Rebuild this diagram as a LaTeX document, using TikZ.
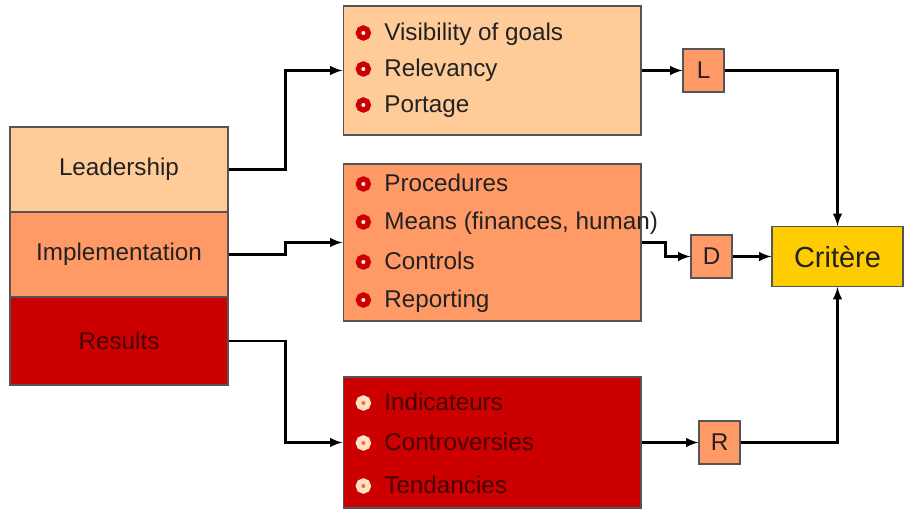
\documentclass[tikz,border=0pt]{standalone}
\usepackage{fontspec}
\setmainfont{Liberation Sans}
\usetikzlibrary{arrows}
\definecolor{peach}{HTML}{FFCC99}
\definecolor{salmon}{HTML}{FF9966}
\definecolor{darkred}{HTML}{CC0000}
\definecolor{gold}{HTML}{FFCC00}
\definecolor{edge}{HTML}{555555}
\definecolor{ink}{HTML}{222222}
\begin{document}
\begin{tikzpicture}[x=0.02cm,y=-0.02cm,
		font=\fontsize{13.8}{16}\selectfont, text=ink,
		box/.style={draw=edge,line width=0.6pt,minimum width=#1},
		stack/.style={box=4.36cm,minimum height=1.7cm},
		list/.style={box=5.96cm},
		letter/.style={box=0.82cm,fill=salmon,minimum height=0.86cm,inner sep=0pt},
		item/.style={anchor=west,inner sep=0pt,text height=11.5pt,text depth=2.5pt,
			label={[circle,draw=darkred,fill=white!85!pink,line width=3pt,minimum size=0.2cm,inner sep=0pt,label distance=0.26cm]left:{}}},
		ritem/.style={anchor=west,inner sep=0pt,text height=11.5pt,text depth=2.5pt,text={rgb,255:red,70;green,0;blue,0},
			label={[circle,draw=peach!60!white,fill=salmon!70!darkred,line width=3pt,minimum size=0.2cm,inner sep=0pt,label distance=0.26cm]left:{}}},
		arr/.style={-latex,line width=1.4pt}]
		\useasboundingbox (0,0) rectangle (906,510);
		% left stack
		\node[stack,fill=peach] (lead) at (119,169.5) {Leadership};
		\node[stack,fill=salmon] (impl) at (119,254.5) {Implementation};
		\node[stack,fill=darkred,minimum height=1.76cm,text={rgb,255:red,70;green,0;blue,0}] (res) at (119,341) {Results};
		% lists
		\node[list,fill=peach,minimum height=2.58cm] (goals) at (492,70.5) {};
		\node[item] (g1) at (384,33) {Visibility of goals};
		\node[item] (g2) at (384,69) {Relevancy};
		\node[item] (g3) at (384,105) {Portage};
		\node[list,fill=salmon,minimum height=3.14cm] (means) at (492,242.5) {};
		\node[item] (m1) at (384,184) {Procedures};
		\node[item] (m2) at (384,222) {Means (finances, human)};
		\node[item] (m3) at (384,262) {Controls};
		\node[item] (m4) at (384,300) {Reporting};
		\node[list,fill=darkred,minimum height=2.62cm] (ind) at (492,442.5) {};
		\node[ritem] (i1) at (384,403) {Indicateurs};
		\node[ritem] (i2) at (384,443) {Controversies};
		\node[ritem] (i3) at (384,486) {Tendancies};
		% letters and target
		\node[letter] (L) at (703.5,70.5) {L};
		\node[letter] (D) at (711.5,256.5) {D};
		\node[letter] (R) at (719.5,442.5) {R};
		\node[box=2.62cm,fill=gold,minimum height=1.2cm,font=\fontsize{16.5}{18}\selectfont] (crit) at (837.5,256.5) {Critère};
		% connectors
		\draw[arr] (lead.east) -- ++(57,0) |- (goals.west);
		\draw[arr] (impl.east) -- ++(57,0) |- (means.west);
		\draw[arr] (res.east) -- ++(57,0) |- (ind.west);
		\draw[arr] (goals) -- (L);
		\draw[arr] (means.east) -- ++(24,0) |- (D.west);
		\draw[arr] (ind) -- (R);
		\draw[arr] (D) -- (crit);
		\draw[arr] (L.east) -| (crit.north);
		\draw[arr] (R.east) -| (crit.south);
	\end{tikzpicture}
\end{document}
